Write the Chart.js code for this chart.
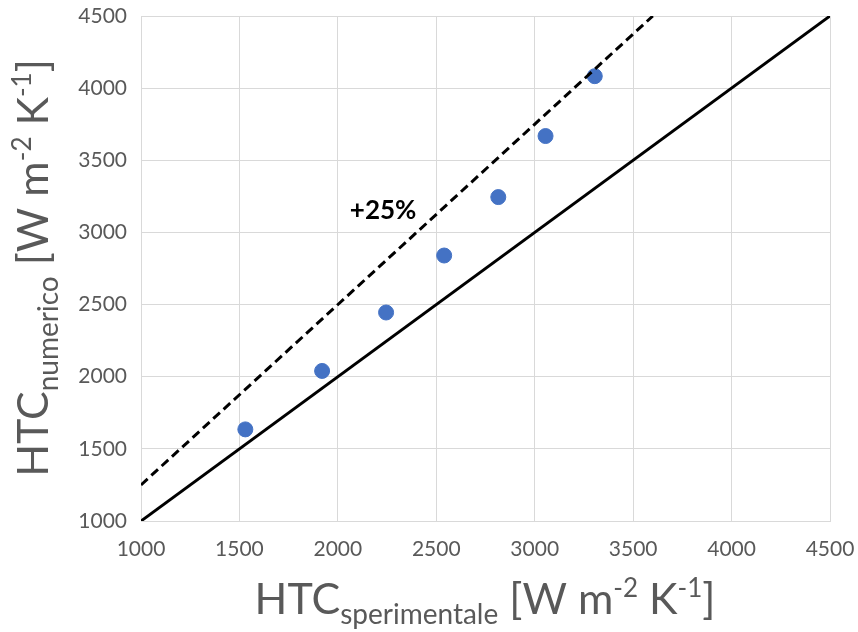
<!DOCTYPE html>
<html lang="en">

<head>
    <meta charset="UTF-8" />
    <title>HTC numerico vs sperimentale</title>
    <script src="https://cdn.jsdelivr.net/npm/chart.js"></script>
    <style>
        body {
            margin: 0;
            background: #fff;
        }

        #wrap {
            width: 858px;
            height: 632px;
        }
    </style>
</head>

<body>
    <div id="wrap"><canvas id="htcChart"></canvas></div>

    <script>
        // measured points
        const htcSperimentale = [1530, 1920, 2245, 2540, 2815, 3055, 3305];
        const htcNumerico = [1635, 2040, 2445, 2840, 3245, 3668, 4083];

        // reference lines: y = x and y = 1.25 x
        const parityX = [1000, 4500];
        const parityY = [1000, 4500];
        const plus25X = [1000, 3600];
        const plus25Y = [1250, 4500];

        const axisMin = 1000;
        const axisMax = 4500;
        const axisStep = 500;

        const labelText = "+25%";
        const labelAt = { x: 2230, y: 3150 };

        const fontFamily = "Lato, 'Open Sans', sans-serif";
        const textGray = "#595959";
        const gridGray = "#d9d9d9";

        const toXY = (xs, ys) => xs.map((x, i) => ({ x: x, y: ys[i] }));

        // draw a run of text pieces (normal / sub / sup) centred on (cx, baseline)
        function drawRich(ctx, parts, cx, baseY) {
            let total = 0;
            parts.forEach(p => {
                ctx.font = p.size + "px " + fontFamily;
                p.w = ctx.measureText(p.text).width;
                total += p.w;
            });
            let x = cx - total / 2;
            ctx.textAlign = "left";
            ctx.textBaseline = "alphabetic";
            parts.forEach(p => {
                ctx.font = p.size + "px " + fontFamily;
                ctx.fillText(p.text, x, baseY + (p.dy || 0));
                x += p.w;
            });
        }

        function titleParts(sub) {
            return [
                { text: "HTC", size: 43 },
                { text: sub, size: 28, dy: 10 },
                { text: " [W m", size: 43 },
                { text: "-2", size: 26, dy: -17 },
                { text: " K", size: 43 },
                { text: "-1", size: 26, dy: -17 },
                { text: "]", size: 43 }
            ];
        }

        const titlesPlugin = {
            id: 'richTitles',
            afterDraw(chart) {
                const ctx = chart.ctx;
                ctx.save();
                ctx.fillStyle = textGray;
                drawRich(ctx, titleParts("sperimentale"), 485, 614);

                ctx.translate(48, 268);
                ctx.rotate(-Math.PI / 2);
                drawRich(ctx, titleParts("numerico"), 0, 0);
                ctx.restore();

                // +25% annotation
                ctx.save();
                ctx.fillStyle = "#000";
                ctx.font = "bold 26px " + fontFamily;
                ctx.textAlign = "center";
                ctx.textBaseline = "middle";
                ctx.fillText(labelText,
                    chart.scales.x.getPixelForValue(labelAt.x),
                    chart.scales.y.getPixelForValue(labelAt.y));
                ctx.restore();
            }
        };

        const tickFont = { family: fontFamily, size: 21 };
        const plainTick = v => String(v);

        const ctx = document.getElementById('htcChart').getContext('2d');
        const chart = new Chart(ctx, {
            type: 'scatter',
            data: {
                datasets: [
                    {
                        label: "y = x",
                        data: toXY(parityX, parityY),
                        showLine: true,
                        borderColor: "#000",
                        borderWidth: 3,
                        pointRadius: 0,
                        order: 0
                    },
                    {
                        label: "+25%",
                        data: toXY(plus25X, plus25Y),
                        showLine: true,
                        borderColor: "#000",
                        borderWidth: 3,
                        borderDash: [9, 5],
                        pointRadius: 0,
                        order: 0
                    },
                    {
                        label: "HTC",
                        data: toXY(htcSperimentale, htcNumerico),
                        backgroundColor: "#4472C4",
                        borderColor: "#4472C4",
                        pointRadius: 7.5,
                        order: 1
                    }
                ]
            },
            options: {
                responsive: true,
                maintainAspectRatio: false,
                animation: false,
                layout: {
                    padding: { left: 0, top: 16, right: 28, bottom: 0 }
                },
                plugins: {
                    legend: { display: false },
                    tooltip: { enabled: false }
                },
                scales: {
                    x: {
                        type: 'linear',
                        min: axisMin,
                        max: axisMax,
                        ticks: { stepSize: axisStep, color: textGray, font: tickFont, padding: 16, callback: plainTick },
                        grid: { color: gridGray, lineWidth: 1, drawTicks: false },
                        border: { color: gridGray },
                        afterFit: scale => {
                            scale.height = 111;
                            scale.paddingLeft = 0;
                            scale.paddingRight = 0;
                        }
                    },
                    y: {
                        type: 'linear',
                        min: axisMin,
                        max: axisMax,
                        ticks: { stepSize: axisStep, color: textGray, font: tickFont, padding: 14, callback: plainTick },
                        grid: { color: gridGray, lineWidth: 1, drawTicks: false },
                        border: { color: gridGray },
                        afterFit: scale => {
                            scale.width = 141;
                            scale.paddingTop = 0;
                            scale.paddingBottom = 0;
                        }
                    }
                }
            },
            plugins: [titlesPlugin]
        });
    </script>

</body>

</html>
